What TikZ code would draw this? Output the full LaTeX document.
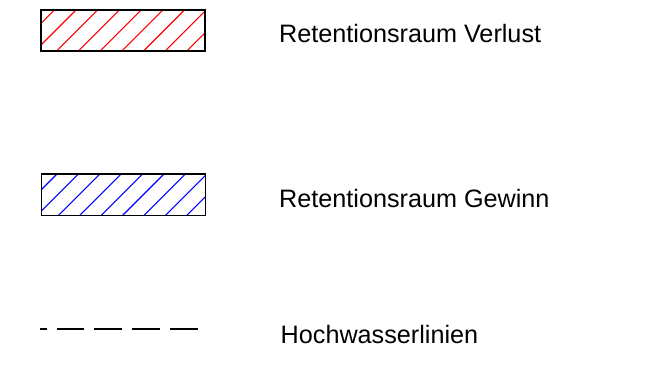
\documentclass[tikz,border=0pt]{standalone}
\usepackage{fontspec}
\setmainfont{Liberation Sans}
\begin{document}
\begin{tikzpicture}[x=1pt,y=-1pt,
  legendtext/.style={anchor=base west,inner sep=0pt,font=\fontsize{25.2}{30}\selectfont},
  boxframe/.style={draw=black,line width=1.1pt},
  hatchline/.style={line width=1.1pt}]
\useasboundingbox (0,0) rectangle (655,377);
% red hatched box
\begin{scope}
  \clip (41,10) rectangle (205,51);
  \foreach \k in {-2,...,8}{
    \draw[hatchline,red] ({56.7+21.7*\k},51) -- ++(41,-41);
  }
\end{scope}
\draw[boxframe] (41,10) rectangle (205,51);
% blue hatched box
\begin{scope}
  \clip (41.5,174) rectangle (205.5,215.5);
  \foreach \k in {-2,...,8}{
    \draw[hatchline,blue] ({58.3+21.4*\k},215.5) -- ++(41.5,-41.5);
  }
\end{scope}
\draw[boxframe] (41.5,174) rectangle (205.5,215.5);
% dashed line
\coordinate (d1) at (40,329.3);
\coordinate (d2) at (197.7,329.3);
\draw[line width=2pt,dash pattern=on 27.7pt off 10pt,dash phase=21pt] (d1) -- (d2);
% texts
\node[legendtext] (t1) at (279,42.3) {Retentionsraum Verlust};
\node[legendtext] (t2) at (279,207.3) {Retentionsraum Gewinn};
\node[legendtext] (t3) at (280.5,343.3) {Hochwasserlinien};
\end{tikzpicture}
\end{document}
